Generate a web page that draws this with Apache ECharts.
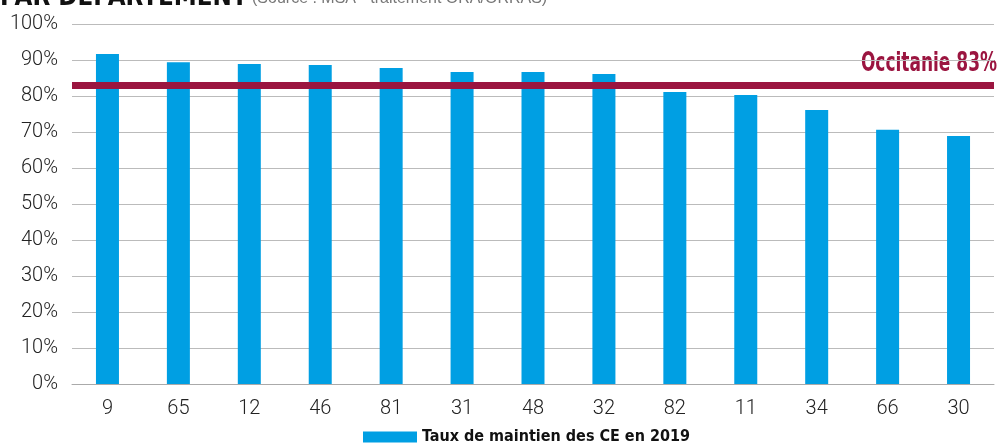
<!DOCTYPE html>
<html>
<head>
<meta charset="utf-8">
<script src="https://cdn.jsdelivr.net/npm/echarts@6/dist/echarts.min.js"></script>
<style>
  html, body { margin: 0; padding: 0; background: #fff; }
  #chart { width: 997px; height: 447px; }
</style>
</head>
<body>
<div id="chart"></div>
<script>
'use strict';

// départements, triés par taux
var departements = ['9', '65', '12', '46', '81', '31', '48', '32', '82', '11', '34', '66', '30'];
var tauxMaintien = [91.7, 89.4, 88.9, 88.6, 87.8, 86.7, 86.7, 86.1, 81.1, 80.3, 76.1, 70.6, 68.9];
var tauxOccitanie = 83;
var serieNom = 'Taux de maintien des CE en 2019';

var narrow = '"Liberation Sans Narrow", "DejaVu Sans Condensed", sans-serif';
var rouge = '#9b1540';

var chart = echarts.init(document.getElementById('chart'));

var option = {
    animation: false,
    grid: { left: 72, right: 3, top: 24, bottom: 63 },
    graphic: [
        // titre coupé en haut de l'image
        { id: 'titre', type: 'text', x: 0, y: -16, scaleX: 0.95,
          style: { text: 'PAR DÉPARTEMENT', font: 'bold 27px "DejaVu Sans Condensed", sans-serif', fill: '#111' } },
        { id: 'source', type: 'text', x: 252, y: -9,
          style: { text: '(Source : MSA - traitement ORA/ORRAS)', font: '16px "Liberation Sans", sans-serif', fill: '#777' } }
    ],
    legend: {
        bottom: -3,
        left: 358,
        icon: 'rect',
        itemWidth: 54,
        itemHeight: 11,
        itemGap: 4,
        textStyle: { fontFamily: narrow, fontWeight: 'bold', fontSize: 16, color: '#111' },
        data: [serieNom]
    },
    xAxis: {
        type: 'category',
        data: departements,
        axisLine: { lineStyle: { color: '#aaa', width: 1 } },
        axisTick: { show: false },
        axisLabel: { color: '#222', fontSize: 20, margin: 15, fontFamily: 'Roboto', fontWeight: 300 }
    },
    yAxis: {
        type: 'value',
        min: 0,
        max: 100,
        interval: 10,
        axisLine: { show: false },
        axisTick: { show: false },
        splitLine: { lineStyle: { color: '#bbb', width: 1 } },
        axisLabel: { formatter: '{value}%', color: '#222', fontSize: 20, margin: 14, fontFamily: 'Roboto', fontWeight: 300 }
    },
    series: [{
        name: serieNom,
        type: 'bar',
        data: tauxMaintien,
        barWidth: 23,
        itemStyle: { color: '#009fe3' },
        markLine: {
            silent: true,
            symbol: 'none',
            lineStyle: { color: rouge, width: 7, type: 'solid' },
            label: { show: false },
            data: [{ yAxis: tauxOccitanie }]
        }
    }]
};

chart.setOption(option);

// étiquette Occitanie, resserrée comme la police d'origine
var yLigne = chart.convertToPixel({ yAxisIndex: 0 }, tauxOccitanie);
chart.setOption({
    graphic: [{
        id: 'occitanie',
        type: 'text',
        x: 997,
        y: yLigne - 8,
        scaleX: 0.7,
        style: {
            text: 'Occitanie ' + tauxOccitanie + '%',
            font: 'bold 27px "DejaVu Sans Condensed", sans-serif',
            fill: rouge,
            align: 'right',
            verticalAlign: 'bottom'
        }
    }]
});
</script>
</body>
</html>
